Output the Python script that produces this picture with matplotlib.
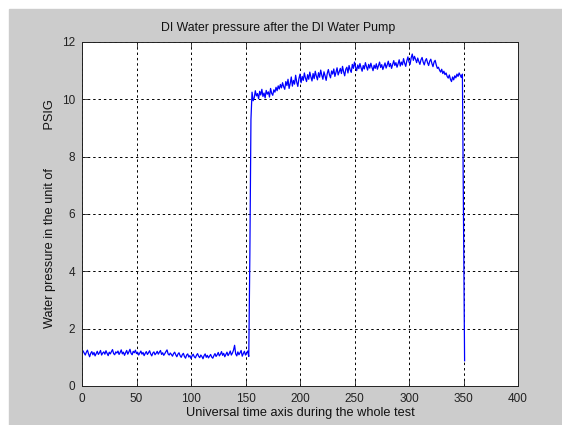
import numpy as np
import matplotlib
matplotlib.use("Agg")
import matplotlib.pyplot as plt

# pump-off baseline (samples 1..153)
base = [1.22, 1.15, 1.08, 1.18, 1.25, 1.12, 1.02, 1.14, 1.20, 1.09,
        1.17, 1.05, 1.13, 1.21, 1.10, 1.16, 1.24, 1.08, 1.15, 1.19,
        1.11, 1.23, 1.14, 1.06, 1.18, 1.12, 1.20, 1.27, 1.13, 1.09,
        1.19, 1.15, 1.22, 1.10, 1.17, 1.26, 1.12, 1.18, 1.07, 1.16,
        1.24, 1.11, 1.19, 1.28, 1.14, 1.09, 1.21, 1.16, 1.25, 1.13,
        1.18, 1.08, 1.15, 1.22, 1.11, 1.17, 1.06, 1.14, 1.20, 1.10,
        1.16, 1.23, 1.12, 1.05, 1.15, 1.19, 1.09, 1.14, 1.21, 1.11,
        1.18, 1.24, 1.10, 1.16, 1.07, 1.13, 1.20, 1.26, 1.12, 1.08,
        1.15, 1.10, 1.04, 1.13, 1.18, 1.09, 1.02, 1.11, 1.16, 1.06,
        1.00, 1.09, 1.14, 1.03, 0.97, 1.08, 1.12, 1.01, 1.06, 0.96,
        1.05, 1.11, 1.02, 0.98, 1.07, 1.13, 1.04, 0.99, 1.08, 1.03,
        0.95, 1.06, 1.12, 1.00, 1.07, 0.98, 1.04, 1.10, 1.01, 0.97,
        1.06, 1.13, 1.03, 1.09, 1.17, 1.05, 1.11, 1.20, 1.07, 1.14,
        1.02, 1.10, 1.18, 1.06, 1.13, 1.22, 1.08, 1.15, 1.25, 1.42,
        1.12, 1.05, 1.19, 1.09, 1.16, 1.24, 1.04, 1.13, 1.21, 1.08,
        1.15, 1.22, 1.03]

# pump start transient
rise = [4.6, 9.3]

# pump running (samples 156..349)
running = [10.25, 9.95, 10.05, 10.30, 10.12, 10.20, 10.02, 10.28, 10.15, 10.35,
           10.10, 10.22, 10.05, 10.31, 10.18, 10.26, 10.08, 10.38, 10.21, 10.14,
           10.33, 10.25, 10.42, 10.30, 10.47, 10.36, 10.52, 10.40, 10.58, 10.44,
           10.35, 10.62, 10.48, 10.70, 10.38, 10.55, 10.78, 10.46, 10.66, 10.53,
           10.84, 10.60, 10.45, 10.72, 10.88, 10.58, 10.80, 10.66, 10.92, 10.74,
           10.62, 10.86, 10.70, 10.95, 10.78, 10.64, 10.90, 10.72, 10.98, 10.81,
           10.68, 10.93, 10.77, 11.02, 10.84, 10.70, 10.96, 10.82, 10.66, 10.90,
           11.04, 10.86, 10.75, 10.99, 10.88, 11.06, 10.80, 10.94, 11.10, 10.85,
           10.97, 11.08, 10.90, 11.15, 10.96, 10.82, 11.05, 11.12, 10.92, 11.18,
           11.03, 10.94, 11.22, 11.08, 11.30, 11.12, 11.00, 11.20, 11.07, 11.25,
           11.10, 10.98, 11.18, 11.06, 11.28, 11.14, 11.02, 11.22, 11.09, 11.26,
           11.12, 11.00, 11.19, 11.08, 11.24, 11.05, 11.17, 11.30, 11.11, 11.21,
           11.04, 11.16, 11.27, 11.09, 11.20, 11.33, 11.14, 11.25, 11.08, 11.22,
           11.35, 11.18, 11.28, 11.12, 11.24, 11.38, 11.16, 11.30, 11.20, 11.42,
           11.26, 11.15, 11.34, 11.48, 11.30, 11.22, 11.45, 11.58, 11.36, 11.50,
           11.40, 11.28, 11.44, 11.32, 11.22, 11.38, 11.46, 11.30, 11.20, 11.35,
           11.42, 11.28, 11.18, 11.33, 11.40, 11.25, 11.14, 11.30, 11.36, 11.20,
           11.08, 11.12, 11.02, 10.95, 11.05, 10.90, 10.98, 10.86, 10.92, 10.80,
           10.74, 10.85, 10.70, 10.62, 10.78, 10.68, 10.82, 10.75, 10.88, 10.80,
           10.92, 10.84, 10.76, 10.88]

# pump stop
fall = [5.9, 0.88]

pressure = np.array(base + rise + running + fall)
t = np.arange(1, len(pressure) + 1)

plt.rcParams['font.family'] = ['Liberation Sans', 'DejaVu Sans']
plt.rcParams['font.size'] = 8.5

fig = plt.figure(figsize=(5.62, 4.25), dpi=100, facecolor='white')
fig.add_artist(plt.Rectangle((9 / 562, 0), 1, 1 - 9 / 425,
                             transform=fig.transFigure, color='#cccccc', zorder=-1))
ax = fig.add_axes([82 / 562, 39 / 425, 436 / 562, 344 / 425])
ax.set_facecolor('white')

ax.plot(t, pressure, color='#0000ff', lw=0.9)

ax.set_xlim(0, 400)
ax.set_ylim(0, 12)
ax.set_xticks(range(0, 401, 50))
ax.set_yticks(range(0, 13, 2))
ax.grid(True, color='black', linestyle=(0, (2.5, 3)), linewidth=0.7)
ax.tick_params(direction='in', top=True, right=True, length=4, width=0.6,
               colors='#222222', pad=5)
for s in ax.spines.values():
    s.set_linewidth(0.7)
    s.set_color('#222222')

# title sits a little left of centre in the original
ax.set_title('DI Water pressure after the DI Water Pump', pad=8, color='#111111',
             fontsize=8.8, x=0.45)
ax.set_xlabel('Universal time axis during the whole test', labelpad=1.5,
              color='#111111', fontsize=9.2)
ax.set_ylabel('Water pressure in the unit of' + ' ' * 11 + 'PSIG', labelpad=4,
              color='#111111', fontsize=9.2)

fig.savefig('out.png', dpi=100, facecolor=fig.get_facecolor())
